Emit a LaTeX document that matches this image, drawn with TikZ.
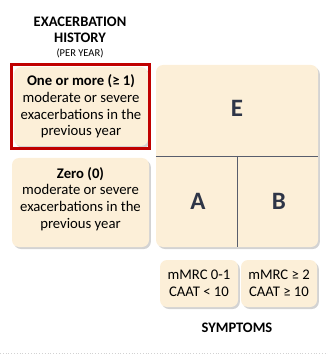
\documentclass[tikz,border=0pt]{standalone}
\usepackage{fontspec}
\setmainfont{Carlito}
\usetikzlibrary{positioning,shadows}
\definecolor{cream}{HTML}{FCEFD8}
\definecolor{navy}{HTML}{2E3547}
\definecolor{boxred}{HTML}{C00000}
\begin{document}
\begin{tikzpicture}[
 x=1pt,y=-1pt,
 card/.style={fill=cream,rounded corners=7pt,inner sep=0pt,
  drop shadow={shadow xshift=1.8pt,shadow yshift=-2pt,opacity=.35}},
 body/.style={font=\fontsize{14.7}{16.8}\selectfont,align=center},
 letter/.style={font=\fontsize{25}{27}\selectfont\bfseries,text=navy},
 heading/.style={font=\fontsize{14.5}{16}\selectfont\bfseries,align=center},
 divider/.style={draw=navy!80,line width=.9pt}]
 \useasboundingbox (0,0) rectangle (328,355);
 % Exacerbation axis.
 \node[heading] (hist) at (80,30) {EXACERBATION\\HISTORY};
 \node[font=\fontsize{10.5}{11}\selectfont] (peryear) at (80,53) {(PER YEAR)};
 \node[card,minimum width=134,minimum height=79] (onemore) at (81,106.5) {};
 \node[body] (onetext) at (onemore) {\textbf{One or more (≥ 1)}\\moderate or severe\\exacerbations in the\\previous year};
 \draw[boxred,line width=3.5pt] (11.5,64.5) rectangle (149.5,148.5);
 \node[card,minimum width=137,minimum height=89] (zero) at (80.5,202.5) {};
 \node[body] (zerotext) at (80.5,199) {\textbf{Zero (0)}\\moderate or severe\\exacerbations in the\\previous year};
 % Group grid.
 \node[card,minimum width=162,minimum height=182] (grid) at (237,156) {};
 \draw[divider] (grid.west) -- (grid.east);
 \draw[divider] (grid.center) -- (grid.south);
 \node[letter] (E) at (237,108) {E};
 \node[letter] (A) at (198,201) {A};
 \node[letter] (B) at (279,201) {B};
 % Symptom axis.
 \node[card,minimum width=78,minimum height=47] (lowsym) at (199,283.5) {};
 \node[body] (lowtext) at (lowsym) {mMRC 0-1\\CAAT < 10};
 \node[card,minimum width=76,minimum height=47] (highsym) at (279,283.5) {};
 \node[body] (hightext) at (highsym) {mMRC ≥ 2\\CAAT ≥ 10};
 \node[heading] (symptoms) at (237,328) {SYMPTOMS};
 \draw[gray!35,dotted,line width=.8pt] (0,353.5) -- (328,353.5);
\end{tikzpicture}
\end{document}
